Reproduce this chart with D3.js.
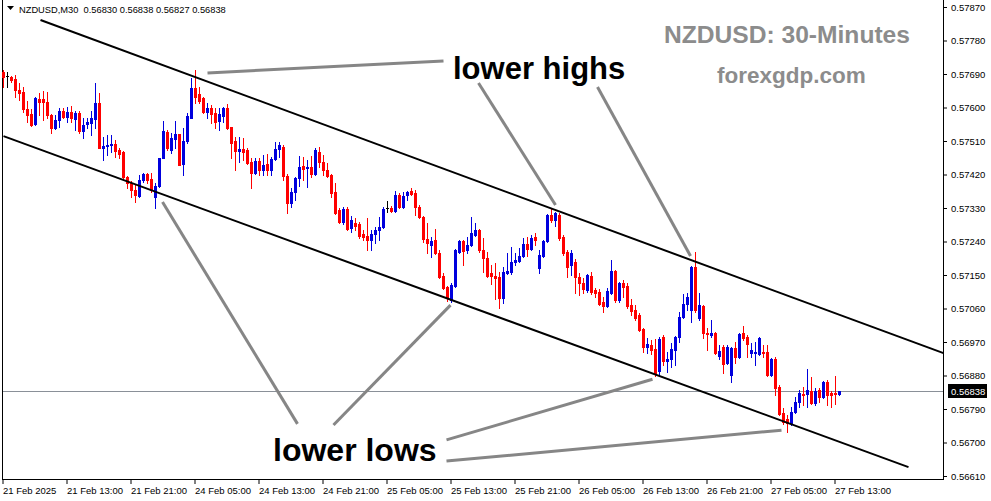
<!DOCTYPE html>
<html><head><meta charset="utf-8">
<script src="https://cdn.jsdelivr.net/npm/d3@7"></script>
<style>body{margin:0;background:#fff}svg{display:block}</style>
</head><body><svg id="c" width="991" height="501"></svg>
<script>
// ---------- DATA ----------
const headerText = "NZDUSD,M30  0.56830 0.56838 0.56827 0.56838";
const lastPrice = 0.56838;
const open = [0.57695,0.57685,0.57682,0.57677,0.57647,0.57642,0.57596,0.57582,0.57556,0.57623,
0.57623,0.57615,0.57580,0.57545,0.57566,0.57591,0.57574,0.57588,0.57569,0.57585,
0.57537,0.57556,0.57558,0.57569,0.57612,0.57491,0.57497,0.57499,0.57502,0.57486,
0.57480,0.57413,0.57397,0.57378,0.57362,0.57405,0.57421,0.57408,0.57360,0.57389,
0.57464,0.57534,0.57486,0.57515,0.57529,0.57448,0.57510,0.57572,0.57652,0.57636,
0.57625,0.57588,0.57599,0.57585,0.57564,0.57577,0.57599,0.57548,0.57510,0.57483,
0.57489,0.57486,0.57454,0.57424,0.57456,0.57432,0.57448,0.57432,0.57462,0.57489,
0.57494,0.57416,0.57343,0.57373,0.57410,0.57443,0.57437,0.57440,0.57421,0.57480,
0.57454,0.57432,0.57419,0.57373,0.57325,0.57292,0.57327,0.57276,0.57290,0.57287,
0.57260,0.57255,0.57244,0.57260,0.57271,0.57279,0.57330,0.57330,0.57322,0.57365,
0.57333,0.57365,0.57376,0.57370,0.57333,0.57306,0.57247,0.57231,0.57244,0.57209,
0.57147,0.57118,0.57083,0.57120,0.57212,0.57241,0.57217,0.57231,0.57257,0.57271,
0.57217,0.57196,0.57155,0.57147,0.57145,0.57088,0.57155,0.57158,0.57185,0.57188,
0.57201,0.57233,0.57220,0.57252,0.57169,0.57201,0.57241,0.57311,0.57298,0.57311,
0.57252,0.57212,0.57177,0.57185,0.57145,0.57128,0.57110,0.57147,0.57110,0.57104,
0.57077,0.57067,0.57102,0.57161,0.57083,0.57128,0.57120,0.57069,0.57056,0.57042,
0.57005,0.56956,0.56962,0.56951,0.56892,0.56983,0.56919,0.56924,0.56948,0.56983,
0.57037,0.57072,0.57056,0.57171,0.57034,0.57067,0.56994,0.56989,0.56994,0.56932,
0.56956,0.56913,0.56881,0.56954,0.56930,0.56994,0.56983,0.56940,0.56940,0.56938,
0.56943,0.56943,0.56881,0.56924,0.56849,0.56779,0.56763,0.56752,0.56782,0.56809,
0.56830,0.56830,0.56838,0.56806,0.56841,0.56822,0.56862,0.56833,0.56833,0.56830];
const high = [0.57701,0.57695,0.57685,0.57687,0.57666,0.57655,0.57617,0.57596,0.57628,0.57639,
0.57644,0.57642,0.57582,0.57580,0.57599,0.57599,0.57601,0.57604,0.57591,0.57591,
0.57572,0.57572,0.57591,0.57666,0.57639,0.57521,0.57526,0.57526,0.57513,0.57491,
0.57483,0.57416,0.57402,0.57392,0.57419,0.57424,0.57424,0.57424,0.57397,0.57464,
0.57564,0.57540,0.57531,0.57564,0.57529,0.57545,0.57585,0.57679,0.57701,0.57655,
0.57628,0.57612,0.57607,0.57599,0.57599,0.57601,0.57609,0.57548,0.57521,0.57521,
0.57518,0.57491,0.57464,0.57464,0.57464,0.57472,0.57475,0.57467,0.57507,0.57507,
0.57499,0.57421,0.57384,0.57413,0.57470,0.57467,0.57459,0.57470,0.57491,0.57494,
0.57472,0.57451,0.57421,0.57397,0.57330,0.57333,0.57333,0.57309,0.57303,0.57292,
0.57271,0.57303,0.57271,0.57279,0.57306,0.57333,0.57349,0.57335,0.57376,0.57370,
0.57373,0.57376,0.57384,0.57378,0.57338,0.57309,0.57290,0.57252,0.57274,0.57217,
0.57155,0.57120,0.57128,0.57220,0.57244,0.57244,0.57252,0.57306,0.57290,0.57274,
0.57249,0.57212,0.57177,0.57182,0.57158,0.57171,0.57209,0.57226,0.57209,0.57223,
0.57249,0.57252,0.57257,0.57263,0.57217,0.57244,0.57314,0.57330,0.57319,0.57316,
0.57257,0.57217,0.57217,0.57193,0.57155,0.57142,0.57153,0.57158,0.57115,0.57112,
0.57091,0.57115,0.57190,0.57163,0.57131,0.57136,0.57128,0.57085,0.57069,0.57048,
0.57008,0.56981,0.56975,0.56978,0.56983,0.56989,0.56943,0.56967,0.56986,0.57050,
0.57099,0.57102,0.57174,0.57212,0.57102,0.57069,0.57008,0.57029,0.56997,0.56962,
0.56962,0.56962,0.56956,0.56970,0.56994,0.57013,0.56989,0.56967,0.56970,0.56983,
0.56962,0.56962,0.56927,0.56930,0.56854,0.56793,0.56774,0.56795,0.56822,0.56841,
0.56849,0.56897,0.56876,0.56846,0.56846,0.56865,0.56868,0.56838,0.56879,0.56838];
const low = [0.57655,0.57655,0.57668,0.57628,0.57620,0.57588,0.57561,0.57550,0.57553,0.57580,
0.57566,0.57572,0.57531,0.57542,0.57548,0.57572,0.57561,0.57561,0.57540,0.57531,
0.57518,0.57545,0.57526,0.57545,0.57491,0.57459,0.57472,0.57480,0.57467,0.57464,
0.57411,0.57384,0.57360,0.57346,0.57360,0.57400,0.57397,0.57373,0.57330,0.57386,
0.57464,0.57486,0.57478,0.57491,0.57445,0.57419,0.57505,0.57572,0.57612,0.57612,
0.57585,0.57572,0.57558,0.57545,0.57540,0.57561,0.57542,0.57464,0.57432,0.57454,
0.57459,0.57448,0.57384,0.57421,0.57419,0.57419,0.57419,0.57419,0.57459,0.57467,
0.57405,0.57316,0.57333,0.57351,0.57389,0.57405,0.57386,0.57413,0.57419,0.57440,
0.57419,0.57413,0.57360,0.57314,0.57290,0.57287,0.57271,0.57265,0.57271,0.57249,
0.57244,0.57217,0.57217,0.57236,0.57244,0.57276,0.57319,0.57319,0.57319,0.57330,
0.57330,0.57351,0.57365,0.57311,0.57303,0.57239,0.57209,0.57198,0.57206,0.57142,
0.57112,0.57080,0.57077,0.57118,0.57209,0.57177,0.57209,0.57228,0.57255,0.57212,
0.57158,0.57145,0.57126,0.57085,0.57061,0.57075,0.57153,0.57153,0.57177,0.57185,
0.57198,0.57201,0.57217,0.57231,0.57155,0.57198,0.57239,0.57292,0.57282,0.57244,
0.57204,0.57145,0.57150,0.57102,0.57096,0.57102,0.57104,0.57099,0.57091,0.57069,
0.57050,0.57064,0.57099,0.57077,0.57077,0.57091,0.57061,0.57042,0.57029,0.56999,
0.56943,0.56940,0.56938,0.56879,0.56881,0.56908,0.56889,0.56903,0.56908,0.56970,
0.57034,0.57056,0.57024,0.57050,0.57029,0.56981,0.56948,0.56983,0.56938,0.56924,
0.56886,0.56911,0.56862,0.56913,0.56927,0.56975,0.56930,0.56930,0.56908,0.56935,
0.56930,0.56879,0.56879,0.56827,0.56774,0.56750,0.56728,0.56747,0.56779,0.56795,
0.56801,0.56795,0.56803,0.56801,0.56809,0.56819,0.56801,0.56795,0.56803,0.56827];
const close = [0.57682,0.57685,0.57674,0.57647,0.57639,0.57596,0.57580,0.57553,0.57625,0.57615,
0.57615,0.57580,0.57545,0.57566,0.57591,0.57574,0.57588,0.57572,0.57585,0.57537,
0.57553,0.57561,0.57572,0.57612,0.57491,0.57497,0.57499,0.57502,0.57483,0.57475,
0.57413,0.57397,0.57378,0.57365,0.57405,0.57421,0.57405,0.57378,0.57389,0.57464,
0.57537,0.57491,0.57518,0.57529,0.57445,0.57510,0.57577,0.57652,0.57628,0.57617,
0.57588,0.57599,0.57582,0.57561,0.57582,0.57599,0.57545,0.57505,0.57483,0.57489,
0.57480,0.57451,0.57424,0.57456,0.57432,0.57445,0.57432,0.57462,0.57489,0.57499,
0.57416,0.57343,0.57373,0.57410,0.57440,0.57435,0.57440,0.57421,0.57486,0.57454,
0.57432,0.57416,0.57370,0.57316,0.57292,0.57327,0.57274,0.57298,0.57282,0.57255,
0.57252,0.57244,0.57260,0.57271,0.57279,0.57327,0.57330,0.57322,0.57365,0.57333,
0.57362,0.57373,0.57368,0.57333,0.57306,0.57247,0.57236,0.57241,0.57209,0.57145,
0.57115,0.57088,0.57123,0.57217,0.57241,0.57214,0.57231,0.57263,0.57271,0.57217,
0.57196,0.57147,0.57147,0.57142,0.57088,0.57158,0.57161,0.57185,0.57190,0.57201,
0.57233,0.57220,0.57249,0.57244,0.57204,0.57241,0.57311,0.57298,0.57316,0.57249,
0.57209,0.57171,0.57209,0.57145,0.57128,0.57112,0.57150,0.57104,0.57102,0.57072,
0.57067,0.57107,0.57161,0.57083,0.57128,0.57118,0.57067,0.57053,0.57034,0.57002,
0.56956,0.56964,0.56948,0.56886,0.56978,0.56919,0.56924,0.56951,0.56983,0.57037,
0.57072,0.57091,0.57171,0.57056,0.57070,0.56994,0.56991,0.56994,0.56940,0.56946,
0.56911,0.56956,0.56954,0.56930,0.56991,0.56981,0.56964,0.56948,0.56943,0.56981,
0.56940,0.56881,0.56924,0.56846,0.56776,0.56755,0.56752,0.56782,0.56809,0.56833,
0.56827,0.56841,0.56806,0.56838,0.56822,0.56862,0.56827,0.56827,0.56830,0.56838];
const yTicks = [0.57870,0.57780,0.57690,0.57600,0.57510,0.57420,0.57330,0.57240,0.57150,0.57060,0.56970,0.56880,0.56790,0.56700,0.56610];
const xTickIndex = [0,16,32,48,64,80,96,112,128,144,160,176,192,208];
const xTickLabels = ["21 Feb 2025","21 Feb 13:00","21 Feb 21:00","24 Feb 05:00","24 Feb 13:00","24 Feb 21:00","25 Feb 05:00","25 Feb 13:00","25 Feb 21:00","26 Feb 05:00","26 Feb 13:00","26 Feb 21:00","27 Feb 05:00","27 Feb 13:00"];
// channel lines: [barIndex, price] endpoints
const channelLines = [
  [[9.25,0.57835],[235,0.56940]],
  [[0,0.57523],[226.25,0.56634]]
];
// grey pointer lines: [barIndex, price] endpoints
const pointerLines = [
  [[51,0.57693],[110,0.57725]],
  [[118.75,0.57666],[138,0.57338]],
  [[148.5,0.57655],[171.75,0.57201]],
  [[39.75,0.57346],[73.5,0.56750]],
  [[82.5,0.56747],[111.75,0.57069]],
  [[110.75,0.56707],[162.25,0.56870]],
  [[110.75,0.56650],[194.5,0.56733]]
];

// ---------- CHART ----------
const W = 991, H = 501;
const svg = d3.select('#c');
svg.append('rect').attr('width',W).attr('height',H).attr('fill','#fff');
const bars = open.map((o,i)=>({i, o, h:high[i], l:low[i], c:close[i]}));

const x = d3.scaleLinear().domain([0, bars.length-1]).range([3.5, 3.5 + 4*(bars.length-1)]);
const y = d3.scaleLinear().domain([0.56610, 0.57870]).range([476, 7]);

const RED = '#ff0000', BLUE = '#0000dd';

// frame
svg.append('line').attr('x1',2.5).attr('x2',2.5).attr('y1',0).attr('y2',480).attr('stroke','#000');
svg.append('line').attr('x1',943.5).attr('x2',943.5).attr('y1',0).attr('y2',480).attr('stroke','#000');
svg.append('line').attr('x1',2).attr('x2',944).attr('y1',479.5).attr('y2',479.5).attr('stroke','#000');

// current price line
svg.append('line').attr('x1',3).attr('x2',943).attr('y1',Math.round(y(lastPrice))+0.5).attr('y2',Math.round(y(lastPrice))+0.5)
  .attr('stroke','#8a9098').attr('stroke-width',1);

// candles
const cg = svg.append('g').attr('shape-rendering','crispEdges');
bars.forEach(d=>{
  const cx = x(d.i);
  const col = d.c > d.o ? BLUE : (d.c < d.o ? RED : '#000');
  const yh = Math.round(y(d.h)), yl = Math.round(y(d.l));
  cg.append('rect').attr('x',cx-0.5).attr('width',1).attr('y',yh).attr('height',Math.max(1,yl-yh+1)).attr('fill',col);
  const yt = Math.round(y(Math.max(d.o,d.c))), yb = Math.round(y(Math.min(d.o,d.c)));
  cg.append('rect').attr('x',cx-1.5).attr('width',3).attr('y',yt).attr('height',Math.max(1,yb-yt+1)).attr('fill',col);
});

// channel lines
const lineGen = d3.line().x(p=>x(p[0])).y(p=>y(p[1]));
svg.append('g').selectAll('path').data(channelLines).join('path')
  .attr('d',lineGen).attr('stroke','#000').attr('stroke-width',2).attr('fill','none');
svg.append('g').selectAll('path').data(pointerLines).join('path')
  .attr('d',lineGen).attr('stroke','#868686').attr('stroke-width',3).attr('fill','none');

// y axis
const yAxis = d3.axisRight(y).tickValues(yTicks).tickSize(4).tickPadding(4).tickFormat(d3.format('.5f'));
const ya = svg.append('g').attr('transform','translate(943,0)').call(yAxis);
ya.select('.domain').remove();
ya.selectAll('line').attr('stroke','#000');
ya.selectAll('text').attr('font-family','Liberation Sans, Arial, sans-serif').attr('font-size','9.5px').attr('fill','#000');

// x axis
const xAxis = d3.axisBottom(x).tickValues(xTickIndex).tickSize(5).offset(0)
  .tickFormat((d,k)=>xTickLabels[k]);
const xa = svg.append('g').attr('transform','translate(-0.5,479)').call(xAxis);
xa.select('.domain').remove();
xa.selectAll('line').attr('stroke','#000');
xa.selectAll('text').attr('text-anchor','start').attr('x',0).attr('y',8)
  .attr('font-family','Liberation Sans, Arial, sans-serif').attr('font-size','9.5px').attr('fill','#000');

// current price tag
const py = Math.round(y(lastPrice));
svg.append('rect').attr('x',948).attr('y',py-7).attr('width',39).attr('height',14).attr('fill','#000');
svg.append('text').attr('x',951).attr('y',py+3.5).text(d3.format('.5f')(lastPrice))
  .attr('font-family','Liberation Sans, Arial, sans-serif').attr('font-size','9.5px').attr('fill','#fff');

// header
svg.append('path').attr('d','M7,6 L14,6 L10.5,10 Z').attr('fill','#000');
svg.append('text').attr('x',19).attr('y',13).text(headerText).attr('xml:space','preserve')
  .style('white-space','pre')
  .attr('font-family','Liberation Sans, Arial, sans-serif').attr('font-size','9.3px').attr('fill','#000');

// annotations
const big = (t,xx,yy,sz,col)=>svg.append('text').attr('x',xx).attr('y',yy).text(t)
  .attr('font-family','Liberation Sans, Arial, sans-serif').attr('font-weight','bold').attr('font-size',sz+'px').attr('fill',col);
big('lower highs',453,79,31,'#000');
big('lower lows',273,461,32,'#000');
big('NZDUSD: 30-Minutes',664,43,24.6,'#8c8c8c');
big('forexgdp.com',717,83,22.5,'#8c8c8c');
</script></body></html>
